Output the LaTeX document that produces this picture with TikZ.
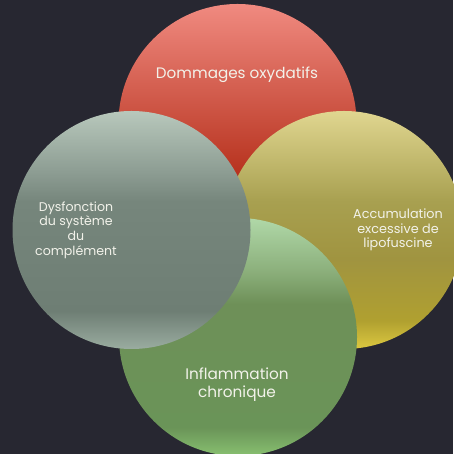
\documentclass[tikz,border=0pt]{standalone}
\usepackage{fontspec}
\setmainfont{Poppins}
\usetikzlibrary{positioning}

\definecolor{bg}{HTML}{272731}
\definecolor{txt}{HTML}{F2F2EA}

\pgfdeclareverticalshading{redfill}{100bp}{color(0bp)=(red!60!black); color(25bp)=(red!60!black);
  color(40bp)=({rgb,255:red,184;green,52;blue,32}); color(75bp)=({rgb,255:red,240;green,138;blue,128}); color(100bp)=({rgb,255:red,240;green,138;blue,128})}
\pgfdeclareverticalshading{yellowfill}{100bp}{color(0bp)=({rgb,255:red,220;green,200;blue,64}); color(25bp)=({rgb,255:red,220;green,200;blue,64});
  color(31bp)=({rgb,255:red,176;green,160;blue,48}); color(44bp)=({rgb,255:red,160;green,148;blue,64});
  color(56bp)=({rgb,255:red,168;green,160;blue,80}); color(75bp)=({rgb,255:red,224;green,214;blue,144}); color(100bp)=({rgb,255:red,224;green,214;blue,144})}
\pgfdeclareverticalshading{greenfill}{100bp}{color(0bp)=({rgb,255:red,136;green,192;blue,112}); color(25bp)=({rgb,255:red,136;green,192;blue,112});
  color(31bp)=({rgb,255:red,106;green,148;blue,88}); color(57bp)=({rgb,255:red,110;green,144;blue,88});
  color(64bp)=({rgb,255:red,140;green,176;blue,124}); color(75bp)=({rgb,255:red,176;green,216;blue,168}); color(100bp)=({rgb,255:red,176;green,216;blue,168})}
\pgfdeclareverticalshading{grayfill}{100bp}{color(0bp)=({rgb,255:red,154;green,172;blue,160}); color(25bp)=({rgb,255:red,154;green,172;blue,160});
  color(33bp)=({rgb,255:red,110;green,126;blue,116}); color(56bp)=({rgb,255:red,118;green,134;blue,124});
  color(62bp)=({rgb,255:red,140;green,156;blue,146}); color(75bp)=({rgb,255:red,184;green,200;blue,188}); color(100bp)=({rgb,255:red,184;green,200;blue,188})}

\begin{document}
\begin{tikzpicture}[x=1pt,y=1pt,
    disc/.style={circle, minimum size=238pt, inner sep=0pt},
    label/.style={text=txt, align=center, inner sep=0pt}]
\fill[bg] (0,0) rectangle (453,454);
\useasboundingbox (0,0) rectangle (453,454);

\coordinate (R) at (237.5,331);
\coordinate (Y) at (344,224);
\coordinate (G) at (238,117);
\coordinate (S) at (131.5,224);

% circles, back to front
\node[disc, shading=redfill] (oxy) at (R) {};
\node[disc, shading=yellowfill] (lipo) at (Y) {};
\node[disc, shading=greenfill] (infl) at (G) {};
\node[disc, shading=grayfill] (compl) at (S) {};

\node[label, font=\fontsize{15.2}{17}\selectfont] (oxytext) at (237,379) {Dommages oxydatifs};
\node[label, font=\fontsize{12.8}{14.7}\selectfont] (lipotext) at (398,224) {Accumulation\\excessive de\\lipofuscine};
\node[label, font=\fontsize{15.3}{18}\selectfont] (infltext) at (237,69) {Inflammation\\chronique};
\node[label, font=\fontsize{12.6}{14.7}\selectfont] (compltext) at (76,224) {Dysfonction\\du système\\du\\complément};
\end{tikzpicture}
\end{document}
